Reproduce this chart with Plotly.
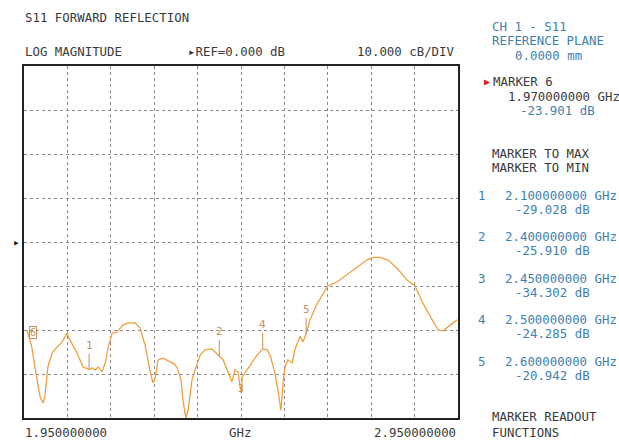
import plotly.graph_objects as go

# ---- data ----
freq_ghz = [1.957, 1.968, 1.975, 1.987, 1.994, 1.998, 2.005, 2.015, 2.026, 2.038,
            2.049, 2.056, 2.072, 2.086, 2.100, 2.107, 2.114, 2.121, 2.130, 2.137,
            2.144, 2.153, 2.164, 2.178, 2.190, 2.206, 2.217, 2.229, 2.240, 2.247,
            2.252, 2.259, 2.270, 2.282, 2.296, 2.303, 2.312, 2.316, 2.323, 2.328,
            2.337, 2.344, 2.356, 2.367, 2.383, 2.400, 2.409, 2.420, 2.429, 2.436,
            2.443, 2.450, 2.453, 2.459, 2.471, 2.487, 2.500, 2.510, 2.517, 2.528,
            2.535, 2.542, 2.547, 2.551, 2.558, 2.568, 2.574, 2.586, 2.593, 2.600,
            2.609, 2.625, 2.639, 2.650, 2.671, 2.694, 2.717, 2.740, 2.754, 2.770,
            2.789, 2.809, 2.832, 2.851, 2.869, 2.890, 2.904, 2.915, 2.932, 2.948]
s11_db = [-20.0, -23.9, -28.4, -35.2, -36.6, -35.2, -28.4, -25.2, -23.9, -22.7,
          -20.7, -22.3, -25.2, -28.4, -29.0, -28.6, -29.1, -28.4, -29.5, -27.5,
          -23.9, -20.7, -20.5, -18.9, -18.4, -18.4, -19.5, -23.4, -29.1, -32.0,
          -30.9, -26.8, -26.4, -27.0, -27.7, -28.6, -31.4, -35.9, -40.0, -38.2,
          -31.4, -29.1, -25.7, -24.5, -24.3, -25.9, -26.8, -29.5, -31.8, -29.1,
          -29.5, -34.3, -30.7, -29.8, -28.0, -25.7, -24.3, -24.5, -25.7, -29.8,
          -33.6, -38.2, -32.0, -28.6, -26.8, -27.5, -24.5, -21.4, -22.7, -20.9,
          -17.7, -14.1, -11.8, -10.0, -9.1, -7.5, -5.7, -4.1, -3.5, -3.5,
          -4.1, -5.9, -8.6, -10.0, -13.9, -17.7, -20.0, -20.2, -18.9, -17.7]

marker_ids = ["1", "2", "3", "4", "5"]
marker_freq = [2.100, 2.400, 2.450, 2.500, 2.600]
marker_db = [-29.028, -25.910, -34.302, -24.285, -20.942]
marker6_freq = 1.970
marker6_db = -23.901

x_start, x_stop = 1.95, 2.95
ref_db = 0.0
db_per_div = 10.0

# ---- styling ----
MONO = "DejaVu Sans Mono"
DARK = "#3a3a3a"
BLUE = "#3f7fae"
TRACE = "#f0a040"
MLBL = "#c8905a"
FS = 12.4

L, R, T, B = 24, 458, 66, 418
W, H = 619, 448


def P(px, py):
    return dict(x=(px - L) / (R - L), y=(B - py) / (B - T), xref="paper", yref="paper")


fig = go.Figure()
fig.add_trace(go.Scatter(x=freq_ghz, y=s11_db, mode="lines",
                         line=dict(color=TRACE, width=1.3), hoverinfo="skip"))

ann = []


def txt(s, px, py, color=DARK, anchor="left", size=FS):
    d = P(px, py)
    d.update(text=s, showarrow=False, xanchor=anchor, yanchor="middle",
             font=dict(family=MONO, size=size, color=color))
    ann.append(d)


# header / footer
txt("S11 FORWARD REFLECTION", 23, 17)
txt("LOG MAGNITUDE", 23, 52)
txt("\u25b8REF=%.3f dB" % ref_db, 186, 52)
txt("%.3f cB/DIV" % db_per_div, 457, 52, anchor="right")
txt("%.9f" % x_start, 23, 432)
txt("GHz", 240, 432, anchor="center")
txt("%.9f" % x_stop, 458, 432, anchor="right")

# right panel
txt("CH 1 - S11", 490, 27, BLUE)
txt("REFERENCE PLANE", 490, 41, BLUE)
txt("0.0000 mm", 513, 55, BLUE)
txt("\u25b6", 482, 82, "#e01818", size=10)
txt("MARKER 6", 491, 82)
txt("%.9f GHz" % marker6_freq, 506, 97)
txt("%.3f dB" % marker6_db, 518, 110, BLUE)
txt("MARKER TO MAX", 490, 153)
txt("MARKER TO MIN", 490, 167)
for i, (mid, f, v) in enumerate(zip(marker_ids, marker_freq, marker_db)):
    y0 = 195 + i * 41.5
    txt(mid, 476, y0, BLUE)
    txt("%.9f GHz" % f, 503, y0, BLUE)
    txt("%.3f dB" % v, 513, y0 + 14, BLUE)
txt("MARKER READOUT", 490, 416)
txt("FUNCTIONS", 490, 432)

# marker labels on trace
for mid, f, v in zip(marker_ids, marker_freq, marker_db):
    if mid == "3":
        ann.append(dict(x=f, y=v, xref="x", yref="y", text=mid, showarrow=False,
                        yshift=4, font=dict(family=MONO, size=10, color=MLBL)))
    else:
        ann.append(dict(x=f, y=v, xref="x", yref="y", text=mid, showarrow=True,
                        arrowhead=0, arrowwidth=1, arrowcolor=MLBL, ax=0, ay=-16,
                        yanchor="bottom",
                        font=dict(family=MONO, size=11, color=MLBL)))
ann.append(dict(x=marker6_freq, y=marker6_db, xref="x", yref="y", text="6",
                showarrow=False, yshift=15, bordercolor=MLBL, borderwidth=1, borderpad=0,
                font=dict(family=MONO, size=10, color=MLBL)))

# reference position arrow
ann.append(dict(x=-0.004, y=ref_db, xref="paper", yref="y", text="\u25b8", showarrow=False,
                xanchor="right", yanchor="middle", font=dict(family=MONO, size=11, color="#111")))

fig.update_layout(
    width=W, height=H,
    margin=dict(l=L, r=W - R, t=T, b=H - B, pad=0),
    paper_bgcolor="white", plot_bgcolor="white",
    showlegend=False,
    annotations=ann,
    xaxis=dict(range=[x_start, x_stop], dtick=0.1, tick0=x_start, showticklabels=False,
               ticks="", showgrid=True, gridcolor="#8a8a8a", griddash="dot", gridwidth=1,
               showline=True, linecolor="#222", linewidth=1.5, mirror=True, zeroline=False),
    yaxis=dict(range=[ref_db - 4 * db_per_div, ref_db + 4 * db_per_div], dtick=db_per_div,
               showticklabels=False, ticks="", showgrid=True, gridcolor="#8a8a8a",
               griddash="dot", gridwidth=1, showline=True, linecolor="#222", linewidth=1.5,
               mirror=True, zeroline=False),
)

fig.write_html("out.html", config={"displayModeBar": False},
               post_script="document.body.style.margin='0';document.body.style.overflow='hidden';")
